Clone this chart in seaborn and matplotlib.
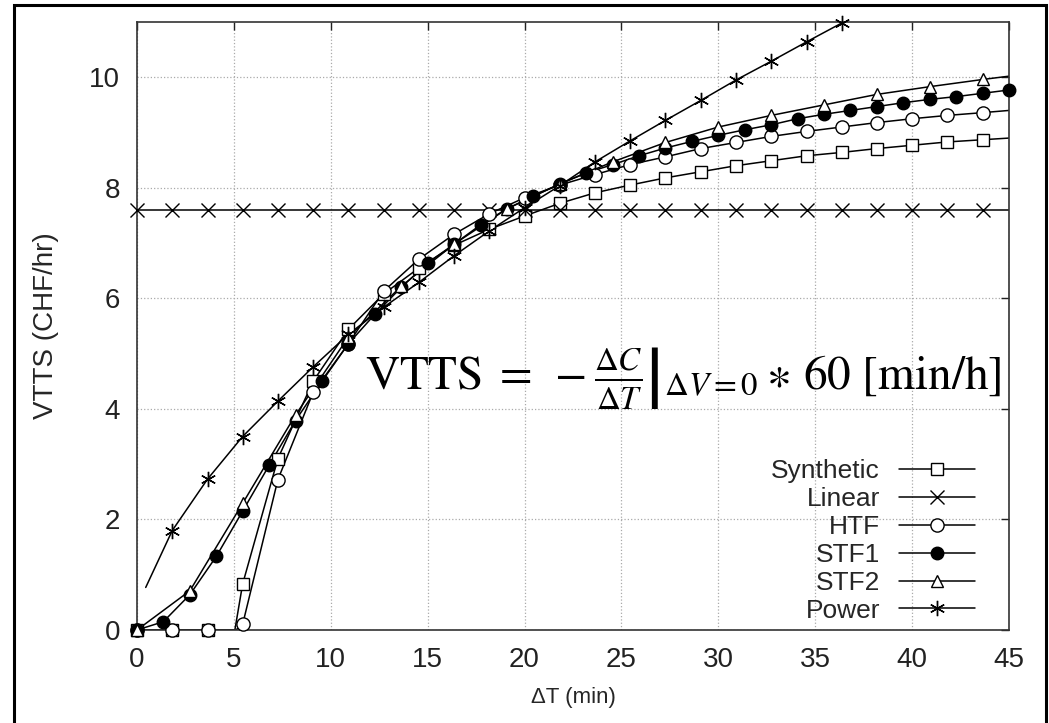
import numpy as np
import pandas as pd
import matplotlib
matplotlib.use('Agg')
import matplotlib.pyplot as plt
from matplotlib.lines import Line2D
from matplotlib.patches import Rectangle
import seaborn as sns

# marker positions (every 4th / 3rd / 6th sample of the model curves)
dt_4 = [0.0, 1.82, 3.64, 5.45, 7.27, 9.09, 10.91, 12.73, 14.55, 16.36, 18.18, 20.0,
        21.82, 23.64, 25.45, 27.27, 29.09, 30.91, 32.73, 34.55, 36.36, 38.18, 40.0,
        41.82, 43.64]
dt_3 = [0.0, 1.36, 2.73, 4.09, 5.45, 6.82, 8.18, 9.55, 10.91, 12.27, 13.64, 15.0,
        16.36, 17.73, 19.09, 20.45, 21.82, 23.18, 24.55, 25.91, 27.27, 28.64, 30.0,
        31.36, 32.73, 34.09, 35.45, 36.82, 38.18, 39.55, 40.91, 42.27, 43.64, 45.0]
dt_6 = [0.0, 2.73, 5.45, 8.18, 10.91, 13.64, 16.36, 19.09, 21.82, 24.55, 27.27, 30.0,
        32.73, 35.45, 38.18, 40.91, 43.64]

synthetic = [0.0, 0.0, 0.0, 0.83, 3.1, 4.5, 5.44, 6.08, 6.55, 6.96, 7.25, 7.49, 7.72,
             7.91, 8.05, 8.18, 8.29, 8.4, 8.49, 8.58, 8.64, 8.71, 8.77, 8.83, 8.87]
linear = [7.6] * 25
htf = [0.0, 0.0, 0.0, 0.1, 2.72, 4.3, 5.18, 6.13, 6.71, 7.16, 7.53, 7.82, 8.05, 8.24,
       8.42, 8.56, 8.71, 8.82, 8.93, 9.02, 9.1, 9.18, 9.25, 9.31, 9.36]
stf1 = [0.0, 0.15, 0.64, 1.33, 2.15, 2.98, 3.79, 4.5, 5.18, 5.71, 6.2, 6.64, 6.98, 7.33,
        7.62, 7.85, 8.07, 8.27, 8.42, 8.58, 8.72, 8.84, 8.95, 9.05, 9.14, 9.25, 9.33,
        9.4, 9.47, 9.54, 9.6, 9.65, 9.71, 9.77]
stf2 = [0.0, 0.71, 2.29, 3.89, 5.3, 6.22, 6.98, 7.62, 8.07, 8.47, 8.82, 9.1, 9.31, 9.5,
        9.69, 9.83, 9.96]
power = [None, 1.8, 2.73, 3.5, 4.14, 4.76, 5.35, 5.84, 6.29, 6.77, 7.22, 7.64, 8.04,
         8.47, 8.85, 9.22, 9.58, 9.95, 10.29, 10.64, 10.98]

# curve points that carry no marker (start / end of the drawn lines)
syn_extra_dt, syn_extra = [5.05, 45.0], [0.0, 8.9]
lin_extra_dt, lin_extra = [45.0], [7.6]
htf_extra_dt, htf_extra = [5.1, 45.0], [0.0, 9.4]
stf2_extra_dt, stf2_extra = [45.0], [10.02]
pow_extra_dt, pow_extra = [0.45, 38.18], [0.77, 11.3]

series = [
    ('Synthetic', dt_4, synthetic, syn_extra_dt, syn_extra, dict(marker='s', mfc='white', ms=9)),
    ('Linear', dt_4, linear, lin_extra_dt, lin_extra, dict(marker='x', mfc='none', ms=10, mew=1.0)),
    ('HTF', dt_4, htf, htf_extra_dt, htf_extra, dict(marker='o', mfc='white', ms=9.5)),
    ('STF1', dt_3, stf1, [], [], dict(marker='o', mfc='black', ms=9)),
    ('STF2', dt_6, stf2, stf2_extra_dt, stf2_extra, dict(marker='^', mfc='white', ms=9)),
    ('Power', dt_4, power, pow_extra_dt, pow_extra, dict(marker=(6, 2, 0), mfc='none', ms=11, mew=1.0)),
]

sns.set_style('white')
plt.rcParams['font.family'] = ['Liberation Sans', 'DejaVu Sans']
plt.rcParams['mathtext.fontset'] = 'stix'

fig = plt.figure(figsize=(10.49, 7.23), dpi=100)
ax = fig.add_axes([137 / 1049, 1 - 630 / 723, (1009 - 137) / 1049, (630 - 22) / 723])

handles = []
for name, xs, ys, ex, ey, style in series:
    pts = [(x, y) for x, y in zip(xs, ys) if y is not None]
    df = pd.DataFrame(pts + list(zip(ex, ey)), columns=['dt', 'vtts'])
    sns.lineplot(data=df, x='dt', y='vtts', ax=ax, color='black', lw=1.1,
                 estimator=None, sort=True)
    mx = [p[0] for p in pts]
    my = [p[1] for p in pts]
    ax.plot(mx, my, ls='none', color='black', mec='black', clip_on=False, zorder=3, **style)
    handles.append(Line2D([], [], color='black', lw=1.1, mec='black', **style))

ax.set_xlim(0, 45)
ax.set_ylim(0, 11)
ax.set_xticks(range(0, 46, 5))
ax.set_yticks(range(0, 11, 2))
ax.grid(True, ls=':', color='#aaaaaa', lw=0.9)
ax.tick_params(direction='in', length=6, width=1, top=True, right=True,
               labelsize=20, colors='#222222', pad=12)
for s in ax.spines.values():
    s.set_linewidth(1.2)
    s.set_color('#333333')

ax.set_xlabel('ΔT (min)', fontsize=16, labelpad=10)
ax.set_ylabel('VTTS (CHF/hr)', fontsize=20, labelpad=22)

ax.legend(handles, [s[0] for s in series], loc='lower right', frameon=False,
          markerfirst=False, fontsize=19, handlelength=2.88, handletextpad=0.72,
          labelspacing=0.15, borderpad=0, borderaxespad=0,
          bbox_to_anchor=(0.961, 0.012))

ax.text(0.261, 0.414,
        r'$\mathrm{VTTS}\;=\;-\left.\frac{\Delta C}{\Delta T}\right|_{\Delta V=0} \ast\, 60\ \mathrm{[min/h]}$',
        transform=ax.transAxes, fontsize=34, va='center', ha='left', color='black')

fig.patches.append(Rectangle((14 / 1049, -0.05), (1046 - 14) / 1049, 1.05 - 5 / 723,
                             transform=fig.transFigure, fill=False, lw=2.2,
                             edgecolor='black'))

fig.savefig('out.png', dpi=100)
